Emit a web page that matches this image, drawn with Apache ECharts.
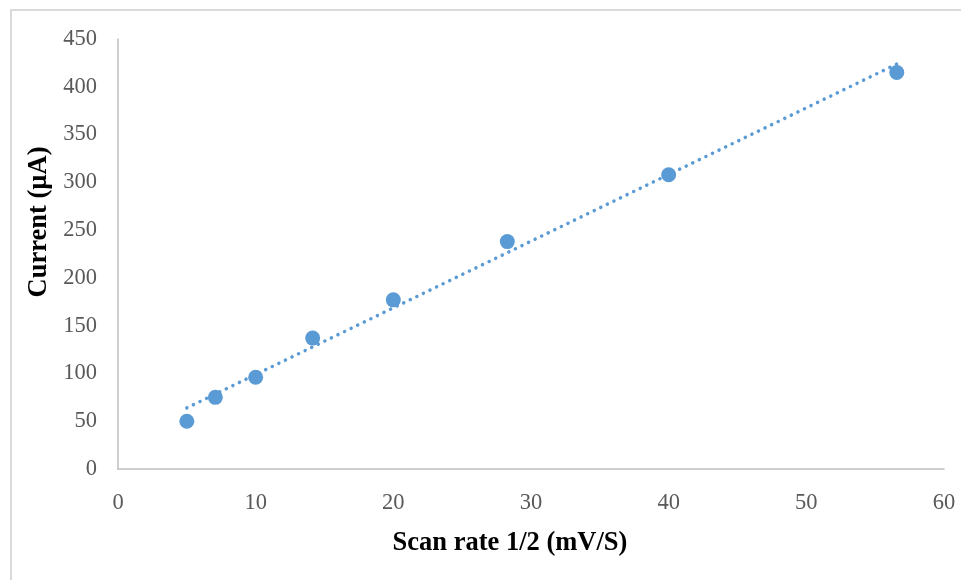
<!DOCTYPE html>
<html>
<head>
<meta charset="utf-8">
<script src="https://cdn.jsdelivr.net/npm/echarts@6/dist/echarts.min.js"></script>
<style>
  html, body { margin: 0; padding: 0; background: #fff; }
  #chart { width: 961px; height: 580px; }
  .frame { position: absolute; left: 10px; top: 9px; width: 960px; height: 580px;
           border-left: 2px solid #d9d9d9; border-top: 2px solid #d9d9d9; pointer-events: none; }
</style>
</head>
<body>
<div id="chart"></div>
<div class="frame"></div>
<script>
// sqrt of scan rate (mV/s) vs peak current
const scanRateSqrt = [5, 7.07, 10, 14.14, 20, 28.28, 40, 56.57];
const current = [50, 75, 96, 137, 177, 238, 308, 415];

// linear trendline (least squares) between first and last point
function fitSlope(xs, ys) {
  const n = xs.length;
  let sx = 0, sy = 0, sxx = 0, sxy = 0;
  for (let i = 0; i < n; i++) {
    sx += xs[i]; sy += ys[i];
    sxx += xs[i] * xs[i]; sxy += xs[i] * ys[i];
  }
  return (n * sxy - sx * sy) / (n * sxx - sx * sx);
}
const slope = fitSlope(scanRateSqrt, current);
const meanX = scanRateSqrt.reduce((a, c) => a + c, 0) / scanRateSqrt.length;
const meanY = current.reduce((a, c) => a + c, 0) / current.length;
const x0 = scanRateSqrt[0], x1 = scanRateSqrt[scanRateSqrt.length - 1];
const trend = [[x0, meanY + slope * (x0 - meanX)], [x1, meanY + slope * (x1 - meanX)]];

const myChart = echarts.init(document.getElementById('chart'));
const font = '"Liberation Serif", "Times New Roman", serif';
const blue = '#5b9bd5';

const option = {
  animation: false,
  grid: { left: 118, right: 17, top: 39, bottom: 111 },
  xAxis: {
    type: 'value',
    min: 0, max: 60, interval: 10,
    name: 'Scan rate 1/2 (mV/S)',
    nameLocation: 'middle',
    nameGap: 61,
    nameTextStyle: { fontFamily: font, fontSize: 26.5, fontWeight: 'bold', color: '#000', padding: [0, 42, 0, 0] },
    axisLine: { lineStyle: { color: '#bfbfbf', width: 1.5 } },
    axisTick: { show: false },
    splitLine: { show: false },
    axisLabel: { fontFamily: font, fontSize: 22.5, color: '#595959', margin: 23 }
  },
  yAxis: {
    type: 'value',
    min: 0, max: 450, interval: 50,
    name: 'Current (µA)',
    nameLocation: 'middle',
    nameGap: 60,
    nameTextStyle: { fontFamily: font, fontSize: 26.5, fontWeight: 'bold', color: '#000', padding: [0, 0, 0, 64] },
    axisLine: { show: true, lineStyle: { color: '#bfbfbf', width: 1.5 } },
    axisTick: { show: false },
    splitLine: { show: false },
    axisLabel: { fontFamily: font, fontSize: 22.5, color: '#595959', margin: 21 }
  },
  series: [
    {
      type: 'line',
      data: trend,
      symbol: 'none',
      lineStyle: { color: blue, width: 3.5, type: [0.1, 7.2], cap: 'round' },
      z: 1
    },
    {
      type: 'scatter',
      data: scanRateSqrt.map((x, i) => [x, current[i]]),
      symbolSize: 15,
      itemStyle: { color: blue, opacity: 1 },
      z: 2
    }
  ]
};

option && myChart.setOption(option);
</script>
</body>
</html>
